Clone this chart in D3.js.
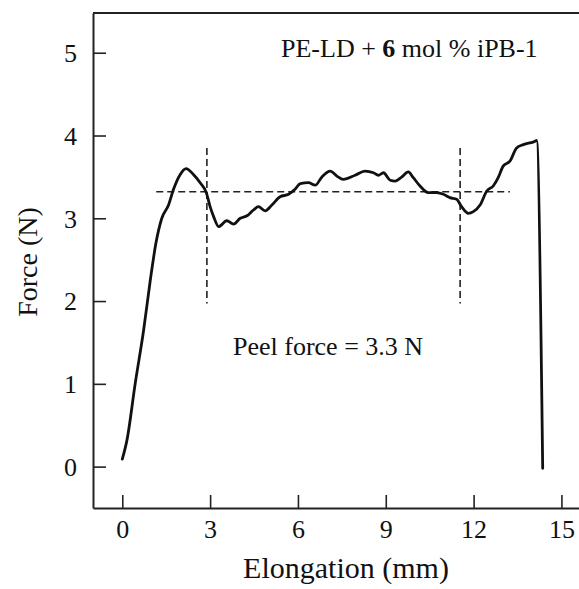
<!DOCTYPE html>
<html>
<head>
<meta charset="utf-8">
<script src="https://cdn.jsdelivr.net/npm/d3@7"></script>
<style>
	body {margin: 0; background: #fff}
	svg {display: block}
	text {font-family: "Liberation Serif", "Times New Roman", serif; fill: #111}
</style>
</head>
<body>
<svg width="579" height="589"></svg>
<script>
'use strict';
// data
let aElong = [0.0, 0.16, 0.44, 0.73, 0.96, 1.15, 1.35, 1.58, 1.75, 1.98, 2.18, 2.43, 2.66, 2.87, 3.00, 3.12, 3.29,
	3.57, 3.80, 4.03, 4.26, 4.48, 4.65, 4.88, 5.11, 5.39, 5.68, 5.90, 6.08, 6.36, 6.59, 6.82, 7.10, 7.33,
	7.55, 7.95, 8.29, 8.58, 8.75, 8.92, 9.15, 9.32, 9.55, 9.77, 9.94, 10.17, 10.45, 10.74, 10.97, 11.19,
	11.42, 11.59, 11.82, 11.99, 12.22, 12.45, 12.67, 12.84, 13.01, 13.24, 13.47, 13.70, 14.10, 14.15, 14.36]
let aForce = [0.09, 0.32, 1.00, 1.65, 2.26, 2.70, 3.00, 3.16, 3.35, 3.53, 3.60, 3.53, 3.43, 3.31, 3.14, 3.02, 2.90,
	2.97, 2.93, 3.00, 3.03, 3.10, 3.14, 3.09, 3.16, 3.26, 3.29, 3.35, 3.42, 3.43, 3.40, 3.50, 3.57, 3.51,
	3.47, 3.52, 3.57, 3.55, 3.52, 3.55, 3.46, 3.45, 3.50, 3.56, 3.49, 3.39, 3.31, 3.31, 3.29, 3.25,
	3.23, 3.14, 3.06, 3.08, 3.16, 3.33, 3.39, 3.49, 3.63, 3.69, 3.85, 3.89, 3.93, 3.94, -0.02]

let aXTicks = [0, 3, 6, 9, 12, 15]
let aYTicks = [0, 1, 2, 3, 4, 5]

// peel force guide lines
let dPeel = 3.32
let aPeelSpan = [1.16, 13.24]
let aMarkers = [2.89, 11.54]
let aMarkerSpan = [1.97, 3.85]

let sTitle = ["PE-LD + ", "6", " mol % iPB-1"]
let sPeelLabel = "Peel force = 3.3 N"

let eSvg = d3.select("svg"),
	dWidth = +eSvg.attr("width")

let fX = d3.scaleLinear().domain([-1, 15.6]).range([93, 579])
let fY = d3.scaleLinear().domain([-0.5, 5.48]).range([508, 13])

let tData = aElong.map((x, i) => {return {x: x, y: aForce[i]}})

// axes: ticks point inward, no end ticks
let gX = eSvg.append("g").attr("transform", `translate(0,${fY.range()[0]})`)
	.call(d3.axisTop(fX).tickValues(aXTicks).tickSize(13).tickSizeOuter(0).tickFormat(d3.format("d")))
let gY = eSvg.append("g").attr("transform", `translate(${fX.range()[0]},0)`)
	.call(d3.axisRight(fY).tickValues(aYTicks).tickSize(13).tickSizeOuter(0).tickFormat(d3.format("d")))

for (let g of [gX, gY]) {
	g.select(".domain").attr("stroke", "#222").attr("stroke-width", 2)
	g.selectAll(".tick line").attr("stroke", "#222").attr("stroke-width", 1.6)
	g.selectAll(".tick text").attr("font-size", 26).attr("font-family", null).attr("fill", "#111")}

gX.selectAll(".tick text").attr("y", 30).attr("dy", 0)
gY.selectAll(".tick text").attr("x", -16).attr("dy", "0.34em").attr("text-anchor", "end")

// top frame line
eSvg.append("line")
	.attr("x1", fX.range()[0]).attr("x2", dWidth)
	.attr("y1", fY.range()[1]).attr("y2", fY.range()[1])
	.attr("stroke", "#222").attr("stroke-width", 2)

// dashed guides
let gGuide = eSvg.append("g").attr("stroke", "#222").attr("stroke-width", 1.6).attr("stroke-dasharray", "7,4")
gGuide.append("line")
	.attr("x1", fX(aPeelSpan[0])).attr("x2", fX(aPeelSpan[1]))
	.attr("y1", fY(dPeel)).attr("y2", fY(dPeel))
gGuide.selectAll("line.mark").data(aMarkers).enter().append("line")
	.attr("class", "mark")
	.attr("x1", d => fX(d)).attr("x2", d => fX(d))
	.attr("y1", fY(aMarkerSpan[1])).attr("y2", fY(aMarkerSpan[0]))

// the curve
let fLine = d3.line().x(d => fX(d.x)).y(d => fY(d.y)).curve(d3.curveMonotoneX)
eSvg.append("path").datum(tData)
	.attr("d", fLine)
	.attr("fill", "none").attr("stroke", "#111").attr("stroke-width", 2.8)
	.attr("stroke-linejoin", "round").attr("stroke-linecap", "round")

// labels
let eTitle = eSvg.append("text").attr("x", 281).attr("y", 57).attr("font-size", 26)
eTitle.selectAll("tspan").data(sTitle).enter().append("tspan")
	.attr("font-weight", (d, i) => i === 1 ? "bold" : null)
	.text(d => d)

eSvg.append("text").attr("x", 233).attr("y", 355).attr("font-size", 26).text(sPeelLabel)

eSvg.append("text").attr("x", 346).attr("y", 578).attr("font-size", 30)
	.attr("text-anchor", "middle").text("Elongation (mm)")

eSvg.append("text").attr("transform", "translate(37,262) rotate(-90)").attr("font-size", 28)
	.attr("text-anchor", "middle").text("Force (N)")
</script>
</body>
</html>
